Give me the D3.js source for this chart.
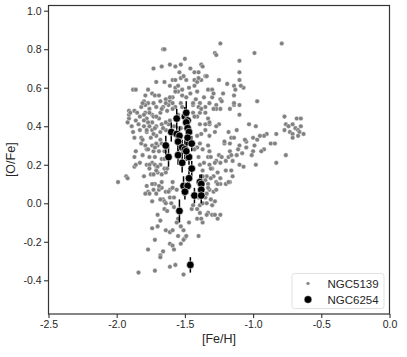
<!DOCTYPE html>
<html>
<head>
<meta charset="utf-8">
<script src="https://cdn.jsdelivr.net/npm/d3@7"></script>
<style>
  body { margin: 0; background: #fff; }
  text { font-family: "Liberation Sans", Arial, sans-serif; }
</style>
</head>
<body>
<svg id="chart" width="407" height="357"></svg>
<script>
// tick values and series
const xTicks = [-2.5, -2.0, -1.5, -1.0, -0.5, 0.0]
const yTicks = [-0.4, -0.2, 0.0, 0.2, 0.4, 0.6, 0.8, 1.0]
const seriesNames = ["NGC5139", "NGC6254"]

// NGC5139 : [Fe/H], [O/Fe]
const ngc5139 = [
  [-1.66,0.80],[-1.65,0.80],[-1.24,0.83],[-1.28,0.78],[-1.27,0.77],[-0.99,0.78],[-1.50,0.75],[-1.73,0.70],[-1.67,0.71],[-1.61,0.72],[-1.57,0.71],[-1.53,0.72],[-1.46,0.70],[-1.38,0.72],[-1.37,0.71],[-1.10,0.74],[-1.43,0.68],[-1.40,0.68],[-1.35,0.66],[-1.34,0.66],[-1.54,0.68],[-1.10,0.68],
  [-1.71,0.63],[-1.65,0.63],[-1.59,0.64],[-1.57,0.64],[-1.53,0.65],[-1.49,0.64],[-1.43,0.64],[-1.41,0.63],[-1.38,0.64],[-1.25,0.64],[-1.10,0.64],[-1.14,0.61],[-1.07,0.60],[-1.19,0.62],
  [-1.88,0.59],[-1.86,0.59],[-1.61,0.61],[-1.57,0.60],[-1.55,0.58],[-1.47,0.60],[-1.46,0.57],[-1.41,0.58],[-1.33,0.59],[-1.30,0.59],[-1.22,0.57],
  [-1.79,0.56],[-1.74,0.57],[-1.72,0.56],[-1.69,0.56],[-1.64,0.54],[-1.59,0.55],[-1.52,0.56],[-1.49,0.55],[-1.42,0.54],[-1.36,0.55],[-1.30,0.55],[-1.24,0.54],[-1.23,0.53],[-1.14,0.56],[-0.97,0.53],
  [-1.80,0.53],[-1.77,0.52],[-1.68,0.53],[-1.61,0.53],[-1.59,0.52],[-1.39,0.52],[-1.32,0.52],
  [-1.82,0.50],[-1.79,0.51],[-1.76,0.49],[-1.71,0.50],[-1.66,0.50],[-1.62,0.51],[-1.57,0.50],[-1.44,0.51],[-1.40,0.50],[-1.35,0.50],[-1.27,0.51],[-1.24,0.49],[-1.10,0.51],
  [-1.91,0.48],[-1.87,0.48],[-1.85,0.47],[-1.79,0.47],[-1.74,0.46],[-1.68,0.47],[-1.63,0.48],[-1.35,0.47],[-1.27,0.49],[-1.39,0.47],
  [-1.91,0.44],[-1.86,0.43],[-1.83,0.45],[-1.78,0.44],[-1.73,0.45],[-1.69,0.44],[-1.41,0.45],[-1.33,0.44],
  [-1.89,0.40],[-1.84,0.41],[-1.80,0.40],[-1.74,0.42],[-1.71,0.40],[-1.67,0.41],[-1.62,0.41],[-1.39,0.41],[-1.35,0.41],[-1.32,0.41],[-1.35,0.38],[-1.12,0.38],[-1.03,0.41],[-0.98,0.40],
  [-1.88,0.37],[-1.83,0.38],[-1.78,0.37],[-1.74,0.38],[-1.68,0.37],[-1.64,0.38],[-1.59,0.36],[-1.38,0.36],[-1.28,0.37],[-1.18,0.37],[-0.90,0.36],[-0.92,0.35],[-0.95,0.35],
  [-1.87,0.34],[-1.82,0.34],[-1.75,0.34],[-1.71,0.35],[-1.68,0.33],[-1.41,0.35],[-1.32,0.35],[-1.16,0.34],[-1.14,0.34],[-1.00,0.34],[-0.97,0.33],[-1.05,0.32],
  [-1.82,0.31],[-1.79,0.30],[-1.74,0.30],[-1.70,0.30],[-1.65,0.30],[-1.39,0.31],[-1.33,0.30],[-1.41,0.29],[-1.21,0.31],[-1.10,0.30],[-1.05,0.29],[-0.99,0.30],
  [-1.86,0.27],[-1.78,0.28],[-1.73,0.27],[-1.69,0.27],[-1.65,0.27],[-1.37,0.28],[-1.32,0.27],[-1.17,0.27],[-1.25,0.25],[-1.12,0.25],[-1.00,0.27],[-0.92,0.28],
  [-1.87,0.24],[-1.81,0.25],[-1.76,0.24],[-1.72,0.24],[-1.67,0.23],[-1.40,0.24],[-1.33,0.24],[-1.31,0.24],[-1.23,0.24],[-1.15,0.22],[-1.01,0.25],
  [-1.83,0.21],[-1.78,0.20],[-1.74,0.21],[-1.68,0.20],[-1.39,0.20],[-1.32,0.20],[-1.24,0.21],[-1.37,0.17],[-1.07,0.19],
  [-1.93,0.14],[-1.80,0.14],[-1.75,0.15],[-1.70,0.16],[-1.34,0.14],[-1.37,0.14],[-1.29,0.14],[-1.15,0.14],
  [-0.79,0.83],[-0.77,0.45],[-0.68,0.44],[-0.65,0.44],[-0.76,0.41],[-0.74,0.40],[-0.71,0.41],[-0.69,0.39],[-0.65,0.40],[-0.67,0.38],[-0.77,0.38],[-0.73,0.37],[-0.71,0.36],[-0.66,0.37],[-0.63,0.36],[-0.67,0.35],[-0.71,0.34],[-0.83,0.36],[-0.87,0.31],[-0.84,0.31],[-0.76,0.25],[-0.83,0.21],
  [-0.94,0.27],[-1.08,0.26],[-1.11,0.28],[-0.98,0.20],[-1.10,0.20],[-1.14,0.51],[-1.10,0.46],[-1.17,0.11],[-1.09,0.61],[-1.06,0.33],[-1.17,0.31],
  [-1.87,0.19],[-1.64,0.16],[-1.71,0.19],[-1.30,0.18],[-1.26,0.16],[-1.20,0.17],[-1.16,0.17],[-1.27,0.22],[-1.20,0.22],[-1.18,0.24],
  [-1.92,0.13],[-1.59,0.11],[-1.67,0.11],[-1.72,0.10],[-1.77,0.06],[-1.76,0.05],[-1.73,0.07],[-1.69,0.07],[-1.67,0.08],[-1.64,0.06],[-1.61,0.07],
  [-1.74,0.01],[-1.66,0.02],[-1.65,0.01],[-1.61,0.03],[-1.58,0.03],[-1.60,0.00],[-1.58,-0.02],[-1.65,-0.03],[-1.63,-0.04],[-1.70,-0.06],[-1.68,-0.09],[-1.74,-0.13],[-1.70,-0.12],[-1.64,-0.14],[-1.61,-0.15],[-1.59,-0.14],[-1.56,-0.10],[-1.55,-0.08],[-1.53,-0.12],[-1.51,-0.14],[-1.55,-0.17],[-1.50,-0.18],[-1.49,-0.17],[-1.51,-0.19],[-1.72,-0.19],[-1.61,-0.21],[-1.59,-0.22],[-1.58,-0.24],[-1.53,-0.21],[-1.77,-0.24],[-1.68,-0.27],[-1.66,-0.25],[-1.68,-0.28],[-1.61,-0.33],[-1.57,-0.32],[-1.72,-0.35],[-1.84,-0.36],[-1.51,-0.37],
  [-1.40,-0.17],[-1.47,-0.10],[-1.41,-0.08],[-1.37,-0.10],[-1.38,-0.08],[-1.33,-0.05],[-1.30,-0.06],[-1.28,-0.06],[-1.24,-0.06],[-1.26,-0.08],[-1.34,-0.06],[-1.39,-0.05],[-1.45,-0.03],[-1.41,-0.03],[-1.44,-0.01],[-1.39,-0.01],[-1.37,0.00],[-1.34,0.00],[-1.30,-0.01],[-1.28,0.01],[-1.31,0.02],[-1.40,0.03],[-1.35,0.03],[-1.34,0.05],[-1.38,0.06],[-1.32,0.07],[-1.29,0.06],[-1.24,0.10],[-1.20,0.10],[-1.18,0.11],[-1.24,0.13],[-1.27,0.11],[-1.33,0.10],
  [-1.79,0.05],[-1.68,0.02],[-1.64,0.00],[-1.99,0.11],[-1.91,0.46],[-1.92,0.42],
  [-1.77,0.59],[-1.90,0.47],[-1.80,0.46],[-1.76,0.47],[-1.71,0.45],[-1.80,0.43],[-1.77,0.42],[-1.64,0.42],[-1.61,0.43],[-1.76,0.40],[-1.72,0.39],[-1.66,0.39],[-1.81,0.52],[-1.73,0.52],[-1.64,0.52],[-1.67,0.49],
  [-1.55,0.61],[-1.52,0.59],[-1.43,0.61],[-1.29,0.57],[-1.13,0.59],[-1.57,0.58],[-1.61,0.55],[-1.53,0.52],[-1.44,0.52],[-1.14,0.52],[-1.59,0.49],[-1.52,0.50],[-1.38,0.49],[-1.29,0.49],[-1.17,0.49],[-1.55,0.46],[-1.44,0.47],[-1.43,0.45],[-1.32,0.42],[-1.25,0.41],[-1.53,0.39],[-1.58,0.40],[-1.51,0.66],[-1.40,0.65],
  [-1.78,0.38],[-1.73,0.36],[-1.81,0.33],[-1.71,0.31],[-1.67,0.31],[-1.77,0.28],[-1.72,0.29],[-1.65,0.23],[-1.86,0.20],[-1.76,0.20],[-1.72,0.20],[-1.76,0.18],[-1.70,0.19],[-1.65,0.18],[-1.71,0.17],[-1.63,0.18],[-1.73,0.15],[-1.67,0.15],[-1.78,0.09],[-1.74,0.10],[-1.69,0.09],[-1.71,0.05],
  [-1.27,0.40],[-1.43,0.28],[-1.36,0.21],[-1.28,0.21],[-1.16,0.25],[-1.21,0.32],[-1.31,0.18],[-1.31,0.13],[-1.35,0.12],[-1.37,0.10],[-1.33,0.08],[-1.26,0.10],[-1.59,0.08],[-1.62,0.06],[-1.56,0.07],[-1.27,0.07]
]

// NGC6254 : [Fe/H], [O/Fe], error on [O/Fe]
const ngc6254Fe = [-1.56,-1.50,-1.49,-1.48,-1.49,-1.48,-1.60,-1.56,-1.54,-1.47,-1.55,-1.48,-1.45,-1.64,-1.52,-1.50,-1.62,-1.55,-1.47,-1.49,-1.52,-1.45,-1.47,-1.51,-1.48,-1.39,-1.38,-1.50,-1.38,-1.43,-1.38,-1.54,-1.46]
const ngc6254O  = [0.44,0.45,0.47,0.43,0.42,0.39,0.37,0.36,0.35,0.37,0.32,0.34,0.31,0.30,0.29,0.28,0.24,0.25,0.24,0.27,0.21,0.18,0.13,0.09,0.09,0.11,0.10,0.06,0.07,0.04,0.04,-0.04,-0.32]
const ngc6254Err = [0.05,0.05,0.06,0.05,0.04,0.05,0.05,0.04,0.05,0.05,0.05,0.04,0.04,0.05,0.04,0.05,0.05,0.05,0.04,0.05,0.05,0.04,0.05,0.05,0.04,0.04,0.05,0.04,0.04,0.04,0.04,0.06,0.04]

const svg = d3.select("#chart")
const plotL = 48.5, plotR = 389.5, plotT = 5.5, plotB = 314

const x = d3.scaleLinear().domain([-2.5, 0]).range([plotL, plotR])
const y = d3.scaleLinear().domain([-0.575, 1.027]).range([plotB, plotT])

const axisColor = "#333"
const textColor = "#262626"
const fmt = v => d3.format(".1f")(v).replace("\u2212", "-")

// grey cloud first
svg.append("g")
  .selectAll("circle")
  .data(ngc5139)
  .join("circle")
  .attr("cx", d => x(d[0]))
  .attr("cy", d => y(d[1]))
  .attr("r", 2.3)
  .attr("fill", "#808080")
  .attr("stroke", "#fff")
  .attr("stroke-width", 0.4)

// NGC6254 with error bars
const idx = d3.range(ngc6254Fe.length)
svg.append("g")
  .selectAll("line")
  .data(idx)
  .join("line")
  .attr("x1", i => x(ngc6254Fe[i]))
  .attr("x2", i => x(ngc6254Fe[i]))
  .attr("y1", i => y(ngc6254O[i] - ngc6254Err[i]))
  .attr("y2", i => y(ngc6254O[i] + ngc6254Err[i]))
  .attr("stroke", "#000")
  .attr("stroke-width", 1.5)

svg.append("g")
  .selectAll("circle")
  .data(idx)
  .join("circle")
  .attr("cx", i => x(ngc6254Fe[i]))
  .attr("cy", i => y(ngc6254O[i]))
  .attr("r", 3.8)
  .attr("fill", "#000")
  .attr("stroke", "#fff")
  .attr("stroke-width", 0.6)

// axes
const xAxis = svg.append("g")
  .attr("transform", `translate(0,${plotB})`)
  .call(d3.axisBottom(x).tickValues(xTicks).tickFormat(fmt).tickSize(4).tickPadding(3))
const yAxis = svg.append("g")
  .attr("transform", `translate(${plotL},0)`)
  .call(d3.axisLeft(y).tickValues(yTicks).tickFormat(fmt).tickSize(4.5).tickPadding(2.5))

for (const g of [xAxis, yAxis]) {
  g.select(".domain").remove()
  g.selectAll(".tick line").attr("stroke", axisColor).attr("stroke-width", 1.1)
  g.selectAll(".tick text")
    .attr("fill", textColor)
    .style("font-size", "10.5px")
    .style("font-family", '"Liberation Sans", Arial, sans-serif')
}

// frame
svg.append("rect")
  .attr("x", plotL).attr("y", plotT)
  .attr("width", plotR - plotL).attr("height", plotB - plotT)
  .attr("fill", "none")
  .attr("stroke", axisColor)
  .attr("stroke-width", 1.2)

// axis labels
svg.append("text")
  .attr("x", (plotL + plotR) / 2).attr("y", 343)
  .attr("text-anchor", "middle")
  .attr("fill", textColor)
  .style("font-size", "12.5px")
  .text("[Fe/H]")

svg.append("text")
  .attr("transform", `translate(15,${(plotT + plotB) / 2}) rotate(-90)`)
  .attr("text-anchor", "middle")
  .attr("fill", textColor)
  .style("font-size", "12.5px")
  .text("[O/Fe]")

// legend
const lg = svg.append("g")
lg.append("rect")
  .attr("x", 292).attr("y", 273.5)
  .attr("width", 92).attr("height", 35)
  .attr("rx", 2.5)
  .attr("fill", "#fff").attr("fill-opacity", 0.85)
  .attr("stroke", "#d9d9d9").attr("stroke-width", 0.8)

const legendRows = [
  { name: seriesNames[0], r: 1.8, fill: "#808080" },
  { name: seriesNames[1], r: 3.8, fill: "#000" }
]
legendRows.forEach((row, i) => {
  const cy = 283.5 + i * 16
  lg.append("circle")
    .attr("cx", 308).attr("cy", cy).attr("r", row.r)
    .attr("fill", row.fill).attr("stroke", "#fff").attr("stroke-width", 0.4)
  lg.append("text")
    .attr("x", 327.5).attr("y", cy).attr("dy", "0.36em")
    .attr("fill", textColor)
    .style("font-size", "11.5px")
    .text(row.name)
})
</script>
</body>
</html>
